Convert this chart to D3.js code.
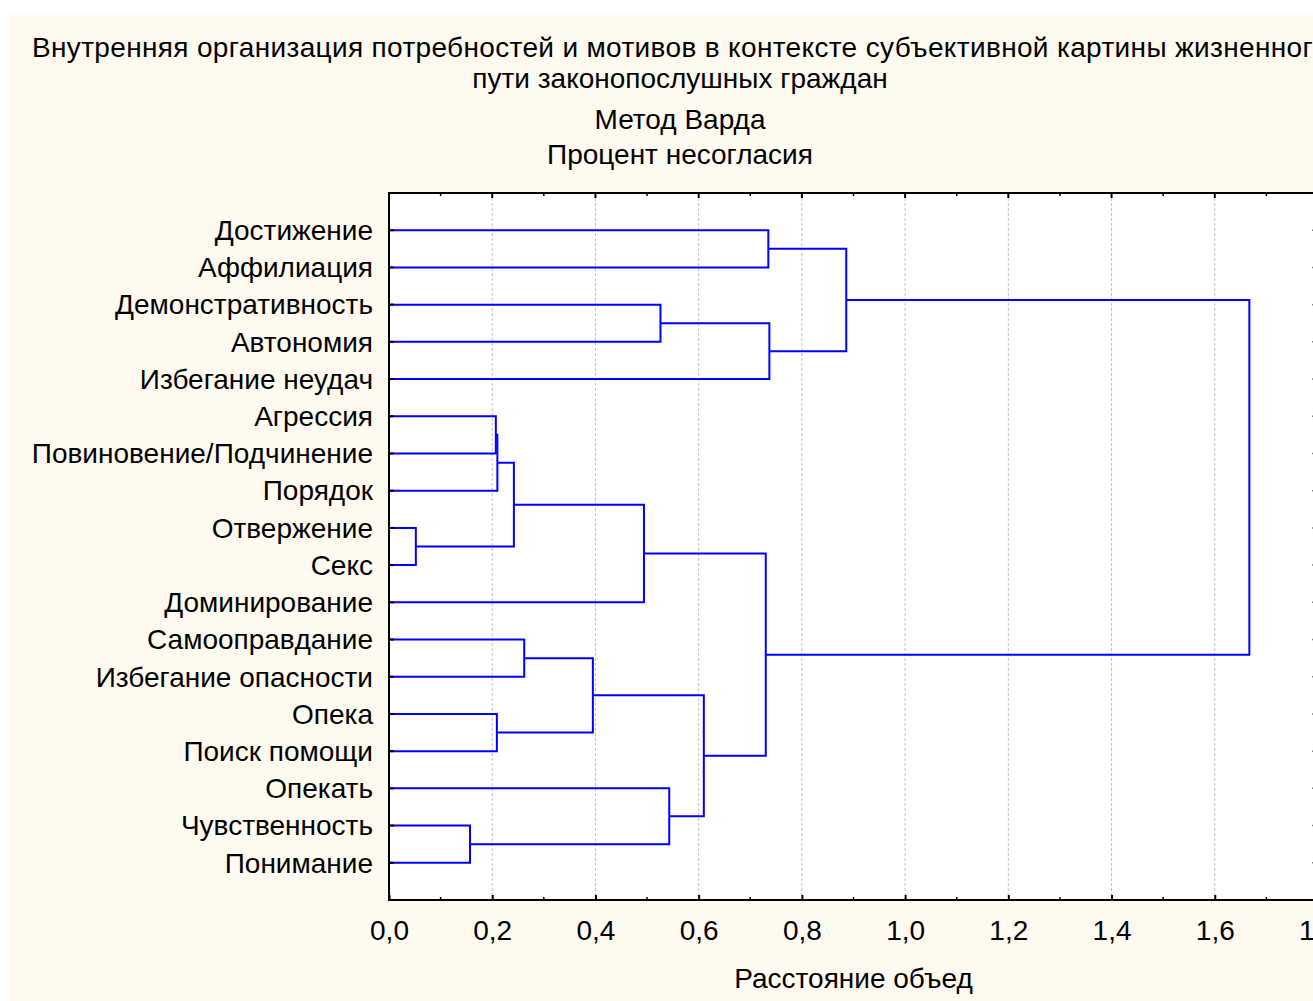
<!DOCTYPE html>
<html>
<head>
<meta charset="utf-8">
<script src="https://cdn.jsdelivr.net/npm/d3@7"></script>
<style>
  body { margin: 0; background: #ffffff; }
  svg { display: block; }
  text { font-family: "Liberation Sans", Arial, sans-serif; fill: #000; }
</style>
</head>
<body>
<svg id="chart" width="1313" height="1001"></svg>
<script>
// leaves, top to bottom
const leaves = [
  'Достижение', 'Аффилиация', 'Демонстративность', 'Автономия', 'Избегание неудач',
  'Агрессия', 'Повиновение/Подчинение', 'Порядок', 'Отвержение', 'Секс',
  'Доминирование', 'Самооправдание', 'Избегание опасности', 'Опека', 'Поиск помощи',
  'Опекать', 'Чувственность', 'Понимание'
]

// merge steps: [child A, child B, distance]; new cluster ids start at leaves.length
const merges = [
  [8, 9, 0.052],
  [16, 17, 0.157],
  [5, 6, 0.207],
  [13, 14, 0.209],
  [20, 7, 0.210],
  [22, 18, 0.242],
  [11, 12, 0.262],
  [24, 21, 0.395],
  [23, 10, 0.494],
  [2, 3, 0.526],
  [15, 19, 0.543],
  [25, 28, 0.610],
  [26, 29, 0.730],
  [0, 1, 0.735],
  [27, 4, 0.737],
  [31, 32, 0.886],
  [33, 30, 1.667]
]

const xTicks = [0, 0.2, 0.4, 0.6, 0.8, 1.0, 1.2, 1.4, 1.6, 1.8]
const titleLines = [
  'Внутренняя организация потребностей и мотивов в контексте субъективной картины жизненного',
  'пути законопослушных граждан',
  'Метод Варда',
  'Процент несогласия'
]
const xTitle = 'Расстояние объед'

const svg = d3.select('#chart')
const FS = '28px'

const pLeft = 389, pRight = 1318, pTop = 193, pBottom = 900

// cream page
svg.append('rect')
  .attr('x', 9).attr('y', 15)
  .attr('width', 1313).attr('height', 1001)
  .attr('fill', '#fefaf0')

// titles (first line runs off the right edge, as in the source)
const titleY = [57, 88, 129, 164]
svg.selectAll('text.title')
  .data(titleLines)
  .enter()
  .append('text')
  .attr('class', 'title')
  .attr('x', 680)
  .attr('y', (d, i) => titleY[i])
  .attr('text-anchor', 'middle')
  .style('font-size', FS)
  .text(d => d)
  .filter((d, i) => i === 0)
  .attr('textLength', 1296)
  .attr('lengthAdjust', 'spacing')

const x = d3.scaleLinear().domain([0, 1.8]).range([pLeft, pRight])
const y = d3.scaleLinear().domain([0, leaves.length + 1]).range([pTop, pBottom])

// plot area
svg.append('rect')
  .attr('x', pLeft).attr('y', pTop)
  .attr('width', pRight - pLeft).attr('height', pBottom - pTop)
  .attr('fill', '#ffffff')

// grid
svg.selectAll('line.grid')
  .data(xTicks.slice(1, -1))
  .enter()
  .append('line')
  .attr('x1', d => x(d)).attr('x2', d => x(d))
  .attr('y1', pTop).attr('y2', pBottom)
  .style('stroke', '#c0c0c0')
  .style('stroke-width', 1)
  .style('stroke-dasharray', '3,2')

// dendrogram: work out node positions
const nodes = leaves.map((name, i) => ({ x: 0, y: i + 1 }))
const links = []
merges.forEach(function (m) {
  const a = nodes[m[0]], b = nodes[m[1]]
  links.push({ a: a, b: b, h: m[2] })
  nodes.push({ x: m[2], y: (a.y + b.y) / 2 })
})

svg.selectAll('path.link')
  .data(links)
  .enter()
  .append('path')
  .attr('d', d => `M${x(d.a.x)},${y(d.a.y)}H${x(d.h)}V${y(d.b.y)}H${x(d.b.x)}`)
  .style('fill', 'none')
  .style('stroke', '#0000ff')
  .style('stroke-width', 2)

// axes
const axisBottom = d3.axisBottom(x).tickValues(xTicks)
  .tickFormat(d => d3.format('.1f')(d).replace('.', ','))
  .tickSizeInner(-5).tickSizeOuter(0).tickPadding(20)
const gB = svg.append('g').attr('transform', `translate(0,${pBottom})`).call(axisBottom)
gB.select('.domain').remove()
gB.selectAll('.tick line').style('stroke', '#000').style('stroke-width', 2)
gB.selectAll('.tick text')
  .style('font-size', FS)
  .style('font-family', '"Liberation Sans", Arial, sans-serif')
  .attr('dy', '0.71em')

const minor = d3.range(0.1, 1.8, 0.2)
svg.selectAll('line.mt')
  .data(xTicks)
  .enter()
  .append('line')
  .attr('x1', d => x(d)).attr('x2', d => x(d))
  .attr('y1', pTop).attr('y2', pTop + 5)
  .style('stroke', '#000').style('stroke-width', 2)
;[pTop, pBottom].forEach(function (yy) {
  svg.selectAll(null)
    .data(minor)
    .enter()
    .append('line')
    .attr('x1', d => x(d)).attr('x2', d => x(d))
    .attr('y1', yy).attr('y2', yy === pTop ? yy + 3 : yy - 3)
    .style('stroke', '#000').style('stroke-width', 1.5)
})

// left ticks + labels
svg.selectAll('line.ytick')
  .data(leaves)
  .enter()
  .append('line')
  .attr('x1', pLeft).attr('x2', pLeft + 5)
  .attr('y1', (d, i) => y(i + 1)).attr('y2', (d, i) => y(i + 1))
  .style('stroke', '#000').style('stroke-width', 2)

svg.selectAll('line.rtick')
  .data(leaves)
  .enter()
  .append('line')
  .attr('x1', pRight - 6).attr('x2', pRight)
  .attr('y1', (d, i) => y(i + 1)).attr('y2', (d, i) => y(i + 1))
  .style('stroke', '#808080').style('stroke-width', 1.5)

svg.selectAll('text.leaf')
  .data(leaves)
  .enter()
  .append('text')
  .attr('class', 'leaf')
  .attr('x', pLeft - 16)
  .attr('y', (d, i) => y(i + 1))
  .attr('dy', '0.35em')
  .attr('text-anchor', 'end')
  .style('font-size', FS)
  .text(d => d)

// frame
svg.append('path')
  .attr('d', `M${pRight},${pTop}H${pLeft}V${pBottom}H${pRight}`)
  .style('fill', 'none').style('stroke', '#000').style('stroke-width', 2)
svg.append('line')
  .attr('x1', pRight).attr('x2', pRight).attr('y1', pTop).attr('y2', pBottom)
  .style('stroke', '#808080').style('stroke-width', 2)

svg.append('text')
  .attr('x', (pLeft + pRight) / 2)
  .attr('y', 988)
  .attr('text-anchor', 'middle')
  .style('font-size', FS)
  .text(xTitle)
</script>
</body>
</html>
